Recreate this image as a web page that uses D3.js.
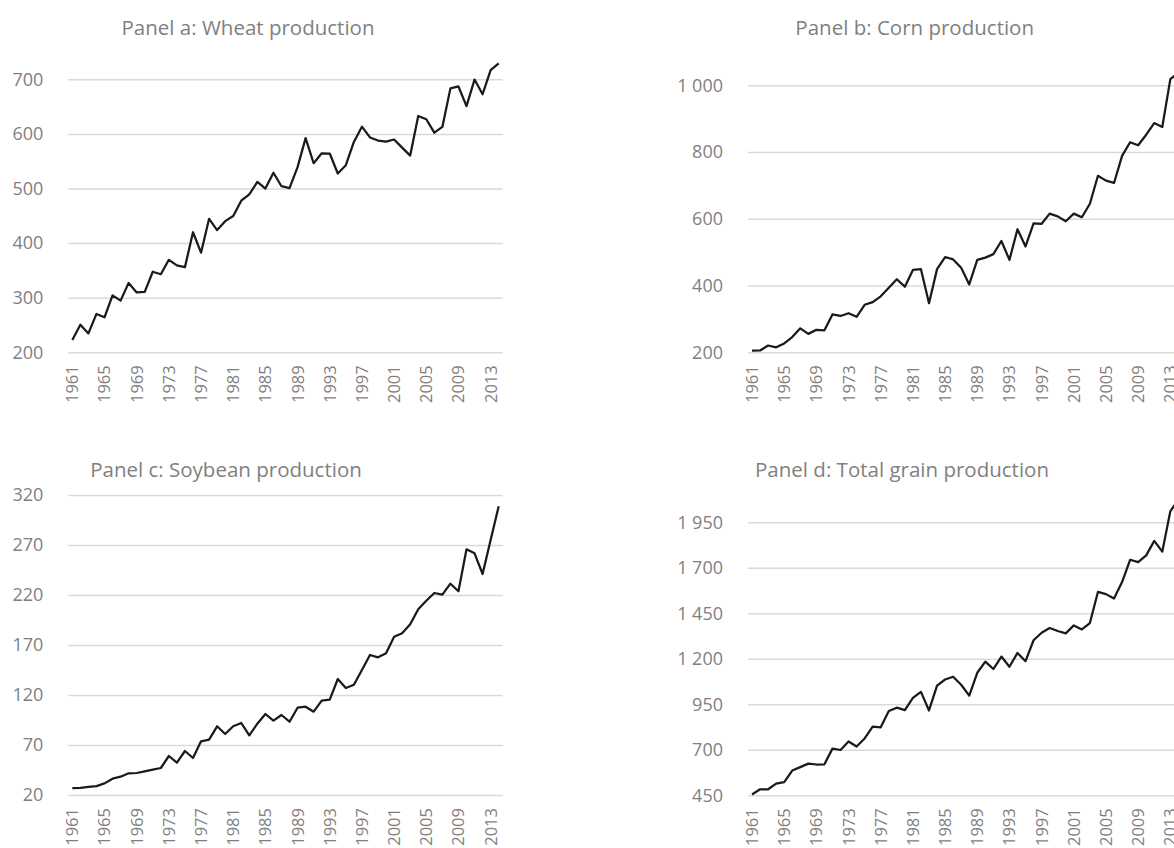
<!DOCTYPE html>
<html>
<head>
<meta charset="utf-8">
<script src="https://cdnjs.cloudflare.com/ajax/libs/d3/7.8.5/d3.min.js"></script>
<style>
  body { margin: 0; background: #ffffff; }
  svg { display: block; font-family: "Open Sans", sans-serif; }
</style>
</head>
<body>
<div id="chart"></div>
<script>
//DATA
//Years on the category axis
var years = [1961, 1962, 1963, 1964, 1965, 1966, 1967, 1968, 1969, 1970,
    1971, 1972, 1973, 1974, 1975, 1976, 1977, 1978, 1979, 1980,
    1981, 1982, 1983, 1984, 1985, 1986, 1987, 1988, 1989, 1990,
    1991, 1992, 1993, 1994, 1995, 1996, 1997, 1998, 1999, 2000,
    2001, 2002, 2003, 2004, 2005, 2006, 2007, 2008, 2009, 2010,
    2011, 2012, 2013, 2014];

var wheat = [222.4, 250.4, 234.6, 270.3, 264.1, 304.2, 294.6, 327.1, 309.7, 310.7,
    347.6, 343.0, 369.4, 359.2, 356.0, 419.9, 382.4, 444.4, 423.8, 440.2,
    449.6, 477.6, 489.3, 512.0, 499.8, 528.9, 504.2, 500.7, 539.1, 592.3,
    546.3, 564.5, 564.1, 527.5, 542.6, 585.2, 613.2, 593.5, 587.8, 585.7,
    589.8, 574.8, 560.3, 632.8, 626.8, 602.2, 612.8, 683.4, 686.9, 650.9,
    699.5, 672.6, 716.9, 729.0];

var corn = [205.0, 205.4, 220.3, 215.0, 226.6, 245.5, 271.9, 255.2, 267.5, 265.8,
    313.6, 308.9, 317.1, 306.5, 342.4, 350.4, 367.7, 393.3, 418.9, 396.6,
    446.8, 448.9, 347.1, 449.2, 485.5, 478.3, 453.2, 403.4, 476.9, 483.6,
    494.2, 533.5, 476.9, 568.7, 517.3, 586.5, 585.1, 615.5, 607.3, 592.5,
    615.5, 604.6, 645.2, 728.9, 714.3, 707.4, 788.5, 829.4, 820.4, 851.9,
    886.9, 875.2, 1018.5, 1037.8];

var soybean = [26.9, 27.1, 28.1, 28.9, 31.6, 36.3, 38.3, 41.7, 42.0, 43.7,
    45.3, 47.0, 59.0, 52.3, 64.0, 57.0, 73.7, 75.3, 88.7, 81.0,
    88.7, 92.0, 79.7, 91.3, 101.0, 94.3, 100.0, 93.3, 107.3, 108.3,
    103.3, 114.3, 115.3, 136.0, 127.0, 130.3, 145.0, 160.0, 157.7, 161.7,
    178.3, 181.7, 190.7, 205.7, 214.3, 222.0, 220.3, 231.3, 223.7, 265.7,
    261.7, 241.0, 275.0, 308.7];

var totalGrain = [454.3, 482.9, 483.0, 514.2, 522.3, 586.0, 604.8, 624.0, 619.2, 620.2,
    706.5, 698.9, 745.5, 718.0, 762.4, 827.3, 823.8, 913.0, 931.4, 917.8,
    985.1, 1018.5, 916.1, 1052.5, 1086.3, 1101.5, 1057.4, 997.4, 1123.3, 1184.2,
    1143.8, 1212.3, 1156.3, 1232.2, 1186.9, 1302.0, 1343.3, 1369.0, 1352.8, 1339.9,
    1383.6, 1361.1, 1396.2, 1567.4, 1555.4, 1531.6, 1621.6, 1744.1, 1731.0, 1768.5,
    1848.1, 1788.8, 2010.4, 2075.5];

//Tick labels
var yearTicks = [1961, 1965, 1969, 1973, 1977, 1981, 1985, 1989, 1993, 1997, 2001, 2005, 2009, 2013];
var wheatTicks = [200, 300, 400, 500, 600, 700];
var cornTicks = [200, 400, 600, 800, 1000];
var soybeanTicks = [20, 70, 120, 170, 220, 270, 320];
var totalTicks = [450, 700, 950, 1200, 1450, 1700, 1950];

var titles = ["Panel a: Wheat production", "Panel b: Corn production",
    "Panel c: Soybean production", "Panel d: Total grain production"];

//LAYOUT of each panel (pixels)
var panels = [
    { title: titles[0], values: wheat, ticks: wheatTicks, titleX: 248, titleY: 35, left: 68.3, right: 502.7, top: 79.3, bottom: 352.3 },
    { title: titles[1], values: corn, ticks: cornTicks, titleX: 914.7, titleY: 35, left: 748, right: 1182.4, top: 85.3, bottom: 352.3 },
    { title: titles[2], values: soybean, ticks: soybeanTicks, titleX: 226, titleY: 477, left: 68.3, right: 502.7, top: 495, bottom: 795 },
    { title: titles[3], values: totalGrain, ticks: totalTicks, titleX: 902, titleY: 477, left: 748, right: 1182.4, top: 522.3, bottom: 795.3 }
];

var svgWidth = 1174;
var svgHeight = 848;

var svg = d3.select("#chart")
    .append("svg")
    .attr("width", svgWidth)
    .attr("height", svgHeight);

//Thousands separated by a space, e.g. "1 000"
var numFormat = d3.formatLocale({ decimal: ".", thousands: " ", grouping: [3], currency: ["", ""] }).format(",");

panels.forEach(function(p) {

    //SCALES
    var xScale = d3.scaleBand()
        .domain(years)
        .range([p.left, p.right])
        .padding(0);

    var yScale = d3.scaleLinear()
        .domain([d3.min(p.ticks), d3.max(p.ticks)])
        .range([p.bottom, p.top]);

    //Y AXIS with gridlines
    var yAxis = d3.axisLeft(yScale)
        .tickValues(p.ticks)
        .tickSize(-(p.right - p.left))
        .tickPadding(25)
        .tickFormat(numFormat);

    var yGroup = svg.append("g")
        .attr("transform", `translate(${p.left}, 0)`)
        .call(yAxis);

    yGroup.select(".domain").remove();
    yGroup.selectAll("line")
        .attr("stroke", "#d9d9d9")
        .attr("stroke-width", 1.5);
    yGroup.selectAll("text")
        .attr("fill", "#7f7f7f")
        .style("font-size", "18px")
        .style("font-family", "'Open Sans', sans-serif");

    //X AXIS, years rotated
    var xAxis = d3.axisBottom(xScale)
        .tickValues(yearTicks)
        .tickSize(0);

    var xGroup = svg.append("g")
        .attr("transform", `translate(0, ${p.bottom})`)
        .call(xAxis);

    xGroup.select(".domain").remove();
    xGroup.selectAll("text")
        .attr("transform", "rotate(-90)")
        .attr("text-anchor", "end")
        .attr("x", -13)
        .attr("y", 0)
        .attr("dy", "0.36em")
        .attr("fill", "#7f7f7f")
        .style("font-size", "16.5px")
        .style("font-family", "'Open Sans', sans-serif");

    //LINE
    var line = d3.line()
        .x((d, i) => xScale(years[i]) + xScale.bandwidth() / 2)
        .y(d => yScale(d));

    svg.append("path")
        .datum(p.values)
        .attr("d", line)
        .attr("fill", "none")
        .attr("stroke", "#1a1a1a")
        .attr("stroke-width", 2.25)
        .attr("stroke-linejoin", "round");

    //TITLE
    svg.append("text")
        .attr("x", p.titleX)
        .attr("y", p.titleY)
        .attr("text-anchor", "middle")
        .attr("fill", "#7f7f7f")
        .style("font-size", "20.5px")
        .text(p.title);
});
</script>
</body>
</html>
